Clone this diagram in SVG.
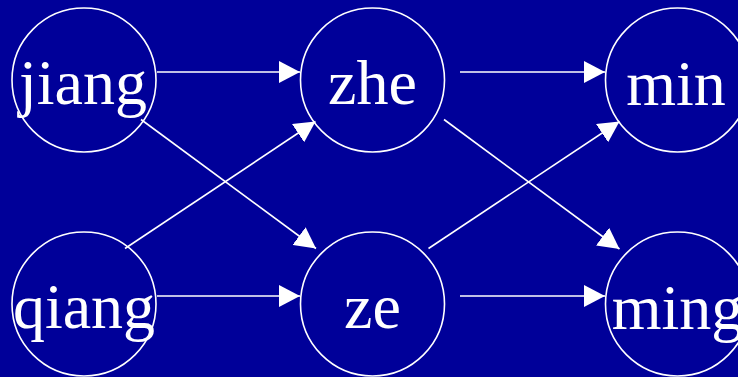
<svg xmlns="http://www.w3.org/2000/svg" width="738" height="377" viewBox="0 0 738 377">
<style>
.node circle{fill:none;stroke:#ffffff;stroke-width:1.6}
.node text{fill:#ffffff;font-family:"Liberation Serif","Times New Roman",serif;font-size:64px;text-anchor:middle}
.edges line{stroke:#ffffff;stroke-width:1.6;marker-end:url(#arr)}
</style>
<defs>
<marker id="arr" viewBox="0 0 21 22" refX="21" refY="11" markerWidth="21" markerHeight="22" markerUnits="userSpaceOnUse" orient="auto">
<path d="M0,0 L21,11 L0,22 Z" fill="#ffffff"/>
</marker>
</defs>
<rect x="0" y="0" width="738" height="377" fill="#000099"/>
<g class="edges">
<line x1="157" y1="72" x2="300" y2="72"/>
<line x1="460" y1="72" x2="605" y2="72"/>
<line x1="157" y1="296" x2="300" y2="296"/>
<line x1="460" y1="296" x2="605" y2="296"/>
<line x1="141" y1="119.5" x2="316" y2="248.5"/>
<line x1="125" y1="248.5" x2="315.5" y2="121.5"/>
<line x1="444" y1="119.5" x2="619.5" y2="249"/>
<line x1="428.5" y1="248.5" x2="619.5" y2="121.5"/>
</g>
<g id="jiang" class="node"><circle cx="84" cy="80" r="72"/><text x="83" y="104">jiang</text></g>
<g id="zhe" class="node"><circle cx="372.5" cy="80" r="72"/><text x="372.5" y="104">zhe</text></g>
<g id="min" class="node"><circle cx="677.5" cy="80" r="72"/><text x="676" y="105">min</text></g>
<g id="qiang" class="node"><circle cx="84" cy="304" r="72"/><text x="84" y="328">qiang</text></g>
<g id="ze" class="node"><circle cx="372.5" cy="304" r="72"/><text x="372.5" y="328">ze</text></g>
<g id="ming" class="node"><circle cx="677.5" cy="304" r="72"/><text x="677.5" y="329">ming</text></g>
</svg>
